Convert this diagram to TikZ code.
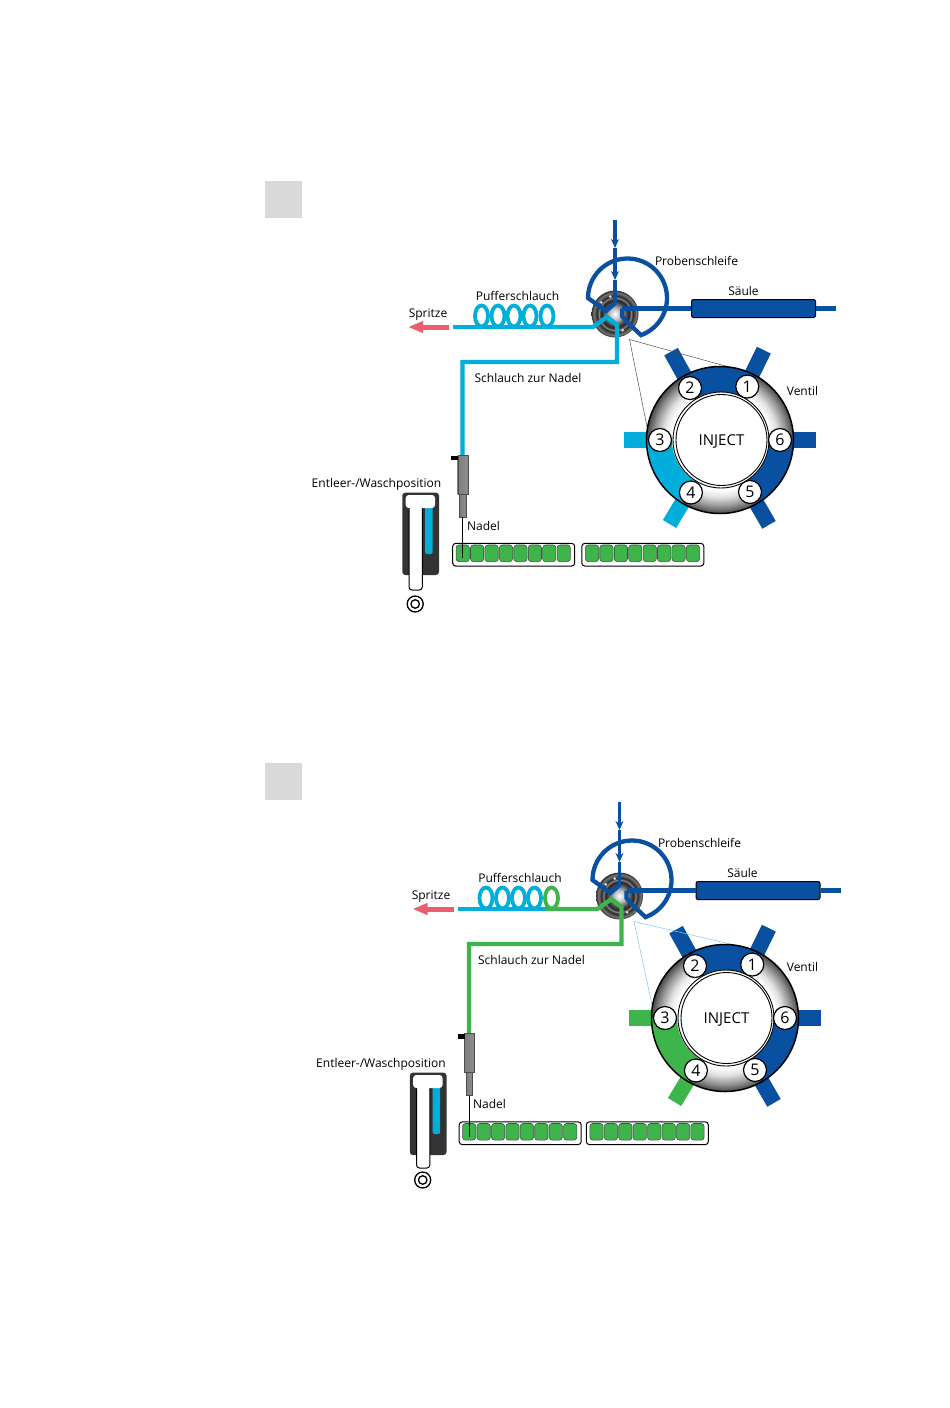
\documentclass[tikz,border=0pt]{standalone}
\usepackage{fontspec}
\setmainfont{Open Sans}
\usetikzlibrary{arrows.meta, shapes.geometric}

\definecolor{hoseblue}{RGB}{10,80,160}
\definecolor{hosecyan}{RGB}{0,174,219}
\definecolor{hosegreen}{RGB}{61,181,74}
\definecolor{callcyan}{RGB}{125,200,225}
\definecolor{darkbody}{RGB}{51,51,51}
\definecolor{syringe}{RGB}{232,96,112}

\pgfdeclareradialshading{ringshade}{\pgfpointorigin}{color(0bp)=(white); color(17bp)=(white); color(19.5bp)=(black!12); color(22.5bp)=(black!42); color(25bp)=(black!72); color(50bp)=(black!72)}
\pgfdeclareradialshading{rotorshade}{\pgfpointorigin}{color(0bp)=(white); color(6bp)=(black!25); color(13.5bp)=(black!80); color(15.5bp)=(black!85); color(17bp)=(black!45); color(19bp)=(black!85); color(22.5bp)=(black!55); color(25bp)=(black!80); color(50bp)=(black!80)}

\tikzset{
  lab/.style={font=\fontsize{12}{14}\selectfont, inner sep=0pt, text height=10pt, text depth=2pt},
  hose/.style={line width=4.3pt},
  stub/.style={line width=15.5pt},
  portnode/.style={circle, draw=black, fill=white, line width=1.2pt, minimum size=23pt, inner sep=0pt, font=\fontsize{16}{18}\selectfont},
  cell/.style={rectangle, rounded corners=3pt, draw=black!70, fill=hosegreen, line width=0.6pt, minimum width=13.3pt, minimum height=16.7pt, inner sep=0pt},
  tray/.style={rectangle, rounded corners=3pt, draw=black, fill=white, line width=1pt, minimum width=122pt, minimum height=22.7pt, inner sep=0pt},
}

\begin{document}
\begin{tikzpicture}[x=1pt, y=1pt, yscale=-1]
\useasboundingbox (0,0) rectangle (950,1408);

% Step squares
\fill[black!15] (265,181) rectangle (302,218);
\fill[black!15] (265,763) rectangle (302,800);

% Both positions: name / top part / big valve / needle and tray / waste / branch colour / callout colour
\foreach \p/\ax/\ay/\vx/\vy/\nx/\ny/\tb/\wx/\wy/\wz/\tc/\lc in {
    a/0/0/0/0/0/0/0/0/0/0/hosecyan/black!70,
    b/4.5/582/5/578/6.5/578.5/-2/7.5/580/-4/hosegreen/callcyan} {

  % Rotor, tubing and column
  \begin{scope}[shift={(\ax,\ay)}]
    \node[circle, shade, shading=rotorshade, minimum size=47pt, inner sep=0pt] (rotor\p) at (615,314) {};
    \foreach \a in {-140,-105,65}
      \fill[black!15] (rotor\p.center) ++(\a:18pt) circle (1.5pt);

    % Syringe side
    \coordinate (hosestart\p) at (453,327);
    \coordinate (hosesplit\p) at (541,327);
    \coordinate (hosebend\p) at (617,362);
    \coordinate (needletop\p) at (462.5+\nx-\ax,362);
    \draw[syringe, line width=5pt, -{Triangle[length=15pt,width=11pt]}] (449,327) -- (408,327);
    \foreach \x in {481.5,498,514,530}
      \draw[hosecyan, line width=3.8pt] (\x,316) ellipse[x radius=6.5pt, y radius=10.5pt];
    \draw[\tc, line width=3.8pt] (547,316) ellipse[x radius=6.5pt, y radius=10.5pt];
    \draw[hose, hosecyan] (hosestart\p) -- (hosesplit\p);
    \draw[hose, \tc] (hosesplit\p) -- (593,327) -- (607,317) -- (617,325) -- (hosebend\p) -- (needletop\p) -- ++(0,95);

    % Inlet and loop
    \coordinate (inlet\p) at (615,220);
    \coordinate (tip1\p) at (615,248);
    \coordinate (tip2\p) at (615,280);
    \coordinate (joint\p) at (615,303);
    \draw[hoseblue, line width=3.5pt, -{Stealth[length=9pt,width=8pt]}] (inlet\p) -- (tip1\p);
    \draw[hoseblue, line width=3.5pt, -{Stealth[length=9pt,width=8pt]}] (tip1\p) -- (tip2\p);
    \draw[hoseblue, line width=3.5pt] (tip2\p) -- (joint\p);
    \draw[hose, hoseblue] (joint\p) -- (606,311) -- (588,298) arc (180:430:39.5pt) -- (627,322) -- (622,316) -- (622,308.5) coordinate (outlet\p);

    \node[rectangle, rounded corners=2pt, draw=black, fill=hoseblue, line width=1pt, minimum width=124pt, minimum height=18pt, inner sep=0pt] (column\p) at (753.5,308.5) {};
    \coordinate (columnend\p) at (836,308.5);
    \draw[hose, hoseblue] (outlet\p) -- (column\p);
    \draw[hose, hoseblue] (column\p) -- (columnend\p);
    \coordinate (zoomtip\p) at (629.5,339.5);
  \end{scope}

  % Big valve
  \begin{scope}[shift={(720+\vx,440+\vy)}]
    \foreach \a/\r/\col in {-64/100/hoseblue, -119/101/hoseblue, 180/96/\tc, 121/98/\tc, 60/98/hoseblue, 0/96/hoseblue}
      \draw[stub, \col] (\a:60pt) -- (\a:\r pt);
    \draw[\lc, line width=0.5pt] (-85:74pt) -- (zoomtip\p) -- (-170:74pt);
    \node[circle, shade, shading=ringshade, minimum size=147pt, inner sep=0pt] (ring\p) at (0,0) {};
    \fill[hoseblue] (-120:73.5pt) arc (-120:-60:73.5pt) -- (-60:48pt) arc (-60:-120:48pt) -- cycle;
    \fill[\tc] (180:73.5pt) arc (180:120:73.5pt) -- (120:48pt) arc (120:180:48pt) -- cycle;
    \fill[hoseblue] (60:73.5pt) arc (60:0:73.5pt) -- (0:48pt) arc (0:60:48pt) -- cycle;
    \draw[black, line width=1.5pt] (0,0) circle (73.5pt);
    \node[circle, draw=black, fill=white, line width=0.9pt, minimum size=96pt, inner sep=0pt] (disc\p) at (1,0) {};
    \node[circle, draw=black, fill=white, line width=0.9pt, minimum size=91pt, inner sep=0pt, font=\fontsize{15}{17}\selectfont, text height=10.5pt, text depth=0pt] (inject\p) at (1.5,0) {INJECT};
    \foreach \n/\a in {1/-63, 2/-120, 3/180, 4/119, 5/60, 6/0}
      \node[portnode] (port\p\n) at (\a:60pt) {\n};
  \end{scope}

  % Trays and needle
  \begin{scope}[shift={(\nx,\ny)}]
    \node[tray] (trayleft\p) at (513.7,554.7) {};
    \node[tray] (trayright\p) at (642.8+\tb,554.7) {};
    \foreach \c in {0,...,7} {
      \node[cell] (cellleft\p\c) at (462.7+14.43*\c,553.3) {};
      \node[cell] (cellright\p\c) at (592+\tb+14.43*\c,553.3) {};
    }
    \shade[left color=black!50, middle color=black!8, right color=black!45] (459.5,494) rectangle (466,517);
    \shade[left color=black!50, middle color=black!8, right color=black!45] (457.7,455) rectangle (467.7,494);
    \draw[black!70, line width=0.4pt] (459.5,494) rectangle (466,517);
    \draw[black!70, line width=0.4pt] (457.7,455) rectangle (467.7,494);
    \fill[black] (451,455.7) rectangle (458,460);
    \coordinate (needleend\p) at (462.7,517);
    \coordinate (needlepoint\p) at (462.7,558);
    \draw[black, line width=1pt] (needleend\p) -- (needlepoint\p);
  \end{scope}

  % Waste position
  \begin{scope}[shift={(\wx,\wy)}]
    \fill[darkbody, rounded corners=3pt] (402.3,492.7) rectangle (439,575);
    \fill[hosecyan, rounded corners=2pt] (425,505) rectangle (432.7,554);
    \draw[black, fill=white, line width=1pt, rounded corners=3pt] (409,500) rectangle (422.3,590+\wz*0.5);
    \fill[white, rounded corners=3pt] (405.7,495) rectangle (435,508);
    \node[circle, draw=black, line width=1.3pt, minimum size=16pt, inner sep=0pt] (targetout\p) at (415.2,604+\wz) {};
    \node[circle, draw=black, line width=1.3pt, minimum size=8.5pt, inner sep=0pt] (targetin\p) at (415.2,604+\wz) {};
  \end{scope}
}

% Labels, first position
\node[lab] (loopa) at (696.5,261) {Probenschleife};
\node[lab] (coila) at (517.5,296) {Pufferschlauch};
\node[lab] (spritzea) at (428,313) {Spritze};
\node[lab] (saeulea) at (743.5,291) {Säule};
\node[lab] (hosea) at (528,378) {Schlauch zur Nadel};
\node[lab] (ventila) at (802.5,391) {Ventil};
\node[lab] (wastea) at (376.5,483) {Entleer-/Waschposition};
\node[lab] (nadela) at (483.5,526) {Nadel};

% Labels, second position
\node[lab] (loopb) at (699.5,843) {Probenschleife};
\node[lab] (coilb) at (520,878) {Pufferschlauch};
\node[lab] (spritzeb) at (431,895) {Spritze};
\node[lab] (saeuleb) at (742.5,873) {Säule};
\node[lab] (hoseb) at (531.5,960) {Schlauch zur Nadel};
\node[lab] (ventilb) at (802.5,967) {Ventil};
\node[lab] (wasteb) at (381,1063) {Entleer-/Waschposition};
\node[lab] (nadelb) at (489.5,1104) {Nadel};

\end{tikzpicture}
\end{document}
